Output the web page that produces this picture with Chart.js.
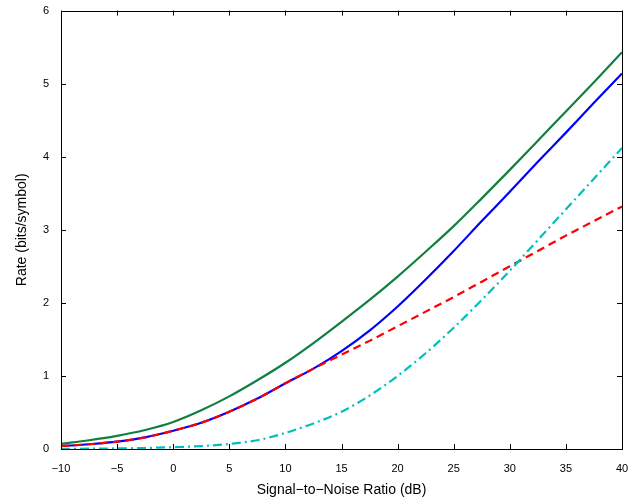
<!DOCTYPE html>
<html>
<head>
<meta charset="utf-8">
<script src="https://cdn.jsdelivr.net/npm/chart.js@4"></script>
<style>
  html, body { margin: 0; padding: 0; background: #fff; }
  #wrap { width: 644px; height: 503px; }
</style>
</head>
<body>
<div id="wrap"><canvas id="rate-chart" width="644" height="503"></canvas></div>
<script>
const snr = [-10, -7.5, -5, -2.5, 0, 2.5, 5, 7.5, 10, 12.5, 15, 17.5, 20, 22.5, 25, 27.5, 30, 32.5, 35, 37.5, 40]

const green = [0.07, 0.12, 0.18, 0.26, 0.37, 0.53, 0.72, 0.94, 1.18, 1.45, 1.74, 2.04, 2.36, 2.70, 3.05, 3.43, 3.82, 4.22, 4.62, 5.02, 5.43]
const blue  = [0.04, 0.065, 0.10, 0.16, 0.25, 0.36, 0.51, 0.69, 0.90, 1.10, 1.34, 1.62, 1.95, 2.32, 2.71, 3.12, 3.52, 3.93, 4.33, 4.74, 5.14]
const red   = [0.04, 0.065, 0.10, 0.16, 0.25, 0.36, 0.51, 0.69, 0.90, 1.10, 1.29, 1.48, 1.68, 1.88, 2.08, 2.29, 2.50, 2.71, 2.92, 3.12, 3.32]
const cyan  = [0.00, 0.004, 0.008, 0.014, 0.025, 0.04, 0.07, 0.12, 0.22, 0.35, 0.51, 0.73, 1.00, 1.31, 1.66, 2.04, 2.44, 2.86, 3.28, 3.70, 4.12]

const xTicks = [-10, -5, 0, 5, 10, 15, 20, 25, 30, 35, 40]
const yTicks = [0, 1, 2, 3, 4, 5, 6]

const pts = arr => arr.map((v, i) => ({x: snr[i], y: v}))

// frame + inward ticks on all four sides, matlab style
const frame = {
  id: 'frame',
  afterDatasetsDraw(chart) {
    const {ctx, chartArea: a, scales} = chart
    const len = 5
    ctx.save()
    ctx.strokeStyle = '#000'
    ctx.lineWidth = 1
    ctx.beginPath()
    xTicks.forEach(t => {
      const px = Math.round(scales.x.getPixelForValue(t)) + 0.5
      ctx.moveTo(px, a.bottom); ctx.lineTo(px, a.bottom - len)
      ctx.moveTo(px, a.top); ctx.lineTo(px, a.top + len)
    })
    yTicks.forEach(t => {
      const py = Math.round(scales.y.getPixelForValue(t)) + 0.5
      ctx.moveTo(a.left, py); ctx.lineTo(a.left + len, py)
      ctx.moveTo(a.right, py); ctx.lineTo(a.right - len, py)
    })
    ctx.stroke()
    ctx.strokeRect(Math.round(a.left) + 0.5, Math.round(a.top) + 0.5,
      Math.round(a.right - a.left), Math.round(a.bottom - a.top))
    ctx.restore()
  }
}

const tickFont = {family: '"Liberation Sans", Arial, sans-serif', size: 11}
const titleFont = {family: '"Liberation Sans", Arial, sans-serif', size: 14}

// lower order is painted on top, so the red dashes sit over the blue line
new Chart(document.getElementById('rate-chart'), {
  type: 'line',
  data: {
    datasets: [
      {data: pts(green), borderColor: 'rgb(16,128,64)', borderWidth: 2.2, order: 4},
      {data: pts(blue), borderColor: '#0000ff', borderWidth: 2.2, order: 3},
      {data: pts(red), borderColor: '#ff0000', borderWidth: 2.2, borderDash: [8, 5], order: 2},
      {data: pts(cyan), borderColor: 'rgb(0,191,191)', borderWidth: 2.2, borderDash: [9, 4, 2, 4], order: 1}
    ]
  },
  options: {
    responsive: false,
    animation: false,
    layout: {padding: {left: 0, right: 22, top: 6, bottom: 0}},
    elements: {
      point: {radius: 0},
      line: {cubicInterpolationMode: 'monotone', fill: false}
    },
    plugins: {
      legend: {display: false},
      tooltip: {enabled: false}
    },
    scales: {
      x: {
        type: 'linear',
        min: -10,
        max: 40,
        grid: {display: false},
        border: {display: false},
        afterBuildTicks: s => { s.ticks = xTicks.map(v => ({value: v})) },
        afterFit: s => { s.height = 54 },
        ticks: {
          color: '#000',
          font: tickFont,
          padding: 5,
          maxRotation: 0,
          callback: v => String(v).replace('-', '\u2212')
        },
        title: {
          display: true,
          text: 'Signal\u2212to\u2212Noise Ratio (dB)',
          color: '#000',
          font: titleFont,
          padding: {top: 0, bottom: 4}
        }
      },
      y: {
        min: 0,
        max: 6,
        grid: {display: false},
        border: {display: false},
        afterBuildTicks: s => { s.ticks = yTicks.map(v => ({value: v})) },
        afterFit: s => { s.width = 61 },
        ticks: {color: '#000', font: tickFont, padding: 4},
        title: {
          display: true,
          text: 'Rate (bits/symbol)',
          color: '#000',
          font: titleFont,
          padding: {top: 14, bottom: 0}
        }
      }
    }
  },
  plugins: [frame]
})
</script>
</body>
</html>
